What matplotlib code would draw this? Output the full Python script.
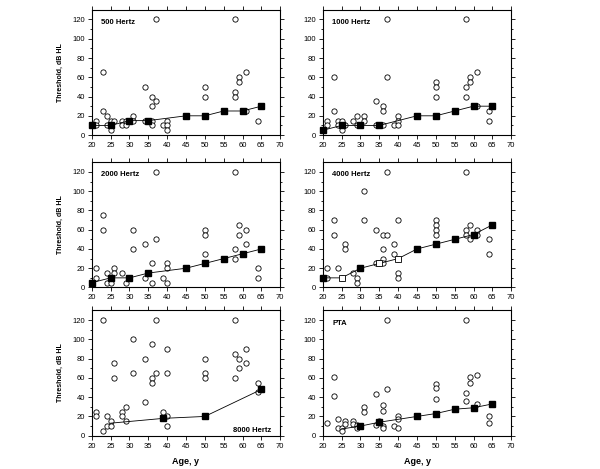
import matplotlib.pyplot as plt
import numpy as np

plt.rcParams['font.family'] = ['Liberation Sans', 'DejaVu Sans']

# individual thresholds (age, dB HL) per frequency
age_500 = [21, 21, 23, 23, 24, 24, 25, 25, 26, 28, 28, 29, 29, 30, 31, 31, 34, 34, 37, 36, 36, 37, 36, 36,
           39, 40, 40, 40, 50, 50, 58, 58, 58, 59, 59, 61, 61, 64]
thr_500 = [15, 10, 65, 25, 20, 10, 15, 5, 15, 15, 10, 15, 10, 15, 20, 15, 50, 15, 120, 40, 30, 35, 15, 10,
           10, 15, 10, 5, 50, 40, 120, 45, 40, 60, 55, 65, 25, 15]
mean_age_500 = [20, 25, 30, 35, 45, 50, 55, 60, 65]
mean_thr_500 = [10, 10, 15, 15, 20, 20, 25, 25, 30]

age_1000 = [21, 21, 23, 23, 24, 24, 25, 25, 25, 26, 28, 29, 29, 31, 31, 34, 34, 35, 36, 36, 36, 37, 37,
            39, 40, 40, 40, 50, 50, 50, 58, 58, 58, 59, 59, 61, 61, 64, 64]
thr_1000 = [15, 10, 60, 25, 15, 10, 15, 10, 5, 10, 15, 20, 10, 20, 15, 35, 10, 10, 30, 25, 10, 120, 60,
            10, 20, 15, 10, 55, 50, 40, 120, 50, 40, 60, 55, 65, 30, 25, 15]
mean_age_1000 = [20, 25, 30, 35, 45, 50, 55, 60, 65]
mean_thr_1000 = [5, 10, 10, 10, 20, 20, 25, 30, 30]

age_2000 = [21, 21, 23, 23, 24, 24, 25, 26, 26, 28, 29, 31, 31, 34, 34, 36, 36, 37, 37, 39, 40, 40, 40,
            50, 50, 50, 58, 58, 58, 59, 59, 61, 61, 64, 64]
thr_2000 = [20, 10, 75, 60, 15, 5, 5, 20, 15, 15, 5, 60, 40, 45, 10, 25, 5, 120, 50, 10, 25, 20, 5,
            60, 55, 35, 120, 40, 30, 65, 55, 60, 45, 20, 10]
mean_age_2000 = [20, 25, 30, 35, 45, 50, 55, 60, 65]
mean_thr_2000 = [5, 10, 10, 15, 20, 25, 30, 35, 40]

age_4000 = [21, 21, 23, 23, 24, 25, 26, 26, 28, 29, 29, 31, 31, 34, 34, 35, 36, 36, 36, 36, 37, 37,
            39, 39, 40, 40, 40, 40, 50, 50, 50, 50, 58, 58, 58, 59, 59, 61, 61, 64, 64]
thr_4000 = [20, 10, 70, 55, 20, 10, 45, 40, 15, 10, 5, 100, 70, 60, 25, 25, 55, 40, 30, 25, 120, 55,
            45, 35, 70, 30, 15, 10, 70, 65, 60, 55, 120, 60, 55, 65, 50, 60, 55, 50, 35]
mean_age_4000 = [20, 25, 30, 35, 40, 45, 50, 55, 60, 65]
mean_thr_4000 = [10, 10, 20, 25, 30, 40, 45, 50, 55, 65]
mean_filled_4000 = [True, False, True, False, False, True, True, True, True, True]

age_8000 = [21, 21, 23, 23, 24, 24, 25, 25, 26, 26, 28, 28, 29, 29, 31, 31, 34, 34, 36, 36, 36, 37, 37,
            39, 40, 40, 40, 40, 50, 50, 50, 58, 58, 58, 59, 59, 61, 61, 64, 64]
thr_8000 = [25, 20, 120, 5, 20, 10, 15, 10, 75, 60, 25, 20, 30, 15, 100, 65, 80, 35, 95, 60, 55, 120, 65,
            25, 90, 65, 20, 10, 80, 65, 60, 120, 85, 60, 80, 70, 90, 75, 55, 45]
mean_age_8000 = [25, 39, 50, 65]
mean_thr_8000 = [13, 18, 20, 48]
mean_filled_8000 = [None, True, True, True]

age_pta = [21, 23, 23, 24, 24, 25, 25, 26, 26, 28, 28, 29, 29, 31, 31, 34, 34, 35, 36, 36, 36, 36, 37, 37,
           39, 40, 40, 40, 50, 50, 50, 58, 58, 58, 59, 59, 61, 61, 64, 64]
thr_pta = [13, 61, 41.5, 17, 8, 8, 4.5, 15, 12.5, 15, 12.5, 11.5, 8, 30, 25, 43, 11.5, 15, 32, 26, 10, 8, 120, 48,
           10, 20, 17, 8, 54, 50, 38, 120, 44.5, 36, 61, 55, 63, 33, 20, 13]
mean_age_pta = [25, 30, 35, 45, 50, 55, 60, 65]
mean_thr_pta = [7, 10, 14, 20, 23, 27.5, 29, 33]
mean_filled_pta = [None, True, True, True, True, True, True, True]

panels = [
    ('500 Hertz', age_500, thr_500, mean_age_500, mean_thr_500, None),
    ('1000 Hertz', age_1000, thr_1000, mean_age_1000, mean_thr_1000, None),
    ('2000 Hertz', age_2000, thr_2000, mean_age_2000, mean_thr_2000, None),
    ('4000 Hertz', age_4000, thr_4000, mean_age_4000, mean_thr_4000, mean_filled_4000),
    ('8000 Hertz', age_8000, thr_8000, mean_age_8000, mean_thr_8000, mean_filled_8000),
    ('PTA', age_pta, thr_pta, mean_age_pta, mean_thr_pta, mean_filled_pta),
]

fig = plt.figure(figsize=(6, 4.69), dpi=100)

# axes positions in figure fractions
lefts = [0.153, 0.538]
bottoms = [0.712, 0.387, 0.071]
w, h = 0.314, 0.267

for i, (name, ages, thr, m_age, m_thr, filled) in enumerate(panels):
    row, col = i // 2, i % 2
    ax = fig.add_axes([lefts[col], bottoms[row], w, h])

    ax.plot(ages, thr, 'o', mfc='white', mec='black', ms=3.8, mew=0.6, zorder=2, clip_on=False)
    ax.plot(m_age, m_thr, '-', color='black', lw=0.6, zorder=3)
    if filled is None:
        filled = [True] * len(m_age)
    # filled squares = group means, open squares where the mean is hidden by data
    fa = [a for a, f in zip(m_age, filled) if f is True]
    fv = [v for v, f in zip(m_thr, filled) if f is True]
    oa = [a for a, f in zip(m_age, filled) if f is False]
    ov = [v for v, f in zip(m_thr, filled) if f is False]
    ax.plot(fa, fv, 's', color='black', ms=4.3, zorder=4, clip_on=False)
    if oa:
        ax.plot(oa, ov, 's', mfc='white', mec='black', ms=4.0, mew=0.6, zorder=4, clip_on=False)

    ax.set_xlim(20, 70)
    ax.set_ylim(0, 130)
    ax.set_xticks(np.arange(20, 71, 5))
    ax.set_yticks(np.arange(0, 121, 20))
    ax.set_yticks(np.arange(0, 130, 10), minor=True)
    ax.tick_params(which='both', direction='out', top=True, right=True, labelsize=5.5,
                   width=0.6, pad=2)
    ax.tick_params(which='major', length=3)
    ax.tick_params(which='minor', length=1.5)
    for s in ax.spines.values():
        s.set_linewidth(0.8)

    if name == '8000 Hertz':
        ax.text(67.5, 5, name, fontsize=5.5, fontweight='bold', ha='right', va='center')
    else:
        ax.text(22.5, 117, name, fontsize=5.5, fontweight='bold', ha='left', va='center')

    if col == 0:
        ax.set_ylabel('Threshold, dB HL', fontsize=5, fontweight='bold', labelpad=6)
    if row == 2:
        ax.set_xlabel('Age, y', fontsize=6.5, fontweight='bold', labelpad=5)

fig.savefig('out.png', dpi=100)
